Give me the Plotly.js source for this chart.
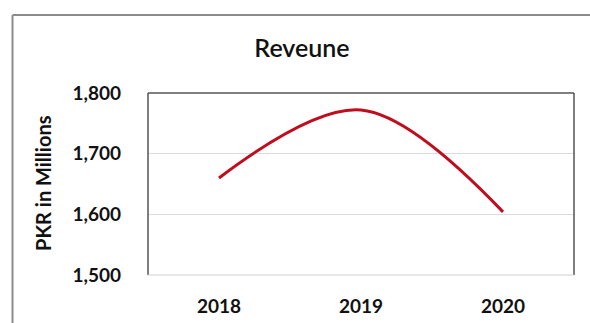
<!DOCTYPE html>
<html>
<head>
<meta charset="utf-8">
<script src="https://cdn.plot.ly/plotly-3.0.1.min.js"></script>
<style>
  html, body { margin: 0; padding: 0; background: #fff; }
  #chart { width: 590px; height: 323px; }
</style>
</head>
<body>
<div id="chart"></div>
<script>
const years = ['2018', '2019', '2020'];
const revenue = [1660, 1772, 1604];
const yTicks = [1500, 1600, 1700, 1800];
const chartTitle = 'Reveune';
const yTitle = 'PKR in Millions';

const FONT = 'Lato, "Liberation Sans", sans-serif';

const trace = {
  x: years,
  y: revenue,
  type: 'scatter',
  mode: 'lines',
  line: { color: '#c00d1e', width: 3, shape: 'spline', smoothing: 1 },
  hoverinfo: 'skip'
};

const layout = {
  width: 590,
  height: 323,
  margin: { l: 148, r: 16, t: 93, b: 48, pad: 0 },
  paper_bgcolor: '#ffffff',
  plot_bgcolor: '#ffffff',
  showlegend: false,
  title: {
    text: chartTitle,
    font: { family: FONT, size: 25, color: '#111111', weight: 600 },
    xref: 'container', yref: 'container',
    x: 302 / 590, y: 1 - 48 / 323,
    xanchor: 'center', yanchor: 'middle'
  },
  xaxis: {
    type: 'category',
    range: [-0.5, 2.5],
    showgrid: false,
    zeroline: false,
    showline: false,
    ticks: '',
    ticklabelstandoff: 18,
    tickfont: { family: FONT, size: 19, color: '#111111', weight: 'bold' },
    fixedrange: true
  },
  yaxis: {
    range: [1500, 1800],
    tickvals: yTicks,
    tickformat: ',',
    showgrid: true,
    gridcolor: '#dcdcdc',
    gridwidth: 1,
    zeroline: false,
    showline: false,
    ticks: '',
    ticklabelstandoff: 26,
    tickfont: { family: FONT, size: 19, color: '#111111', weight: 'bold' },
    fixedrange: true
  },
  annotations: [{
    text: yTitle,
    xref: 'paper', yref: 'paper',
    x: (43 - 148) / 426, y: (275 - 183) / 182,
    xanchor: 'center', yanchor: 'middle',
    textangle: -90,
    showarrow: false,
    font: { family: FONT, size: 20, color: '#111111', weight: 'bold' }
  }],
  shapes: [
    // outer chart border (top and left)
    { type: 'line', xref: 'paper', yref: 'paper', x0: (12.5 - 148) / 426, x1: (600 - 148) / 426, y0: 1 + (93 - 15) / 182, y1: 1 + (93 - 15) / 182, line: { color: '#8c8c8c', width: 2 } },
    { type: 'line', xref: 'paper', yref: 'paper', x0: (12.5 - 148) / 426, x1: (12.5 - 148) / 426, y0: 1 + (93 - 15) / 182, y1: (275 - 330) / 182, line: { color: '#8c8c8c', width: 2 } },
    // plot area frame
    { type: 'line', xref: 'paper', yref: 'paper', x0: 0, x1: 1, y0: 1, y1: 1, line: { color: '#555555', width: 1.5 } },
    { type: 'line', xref: 'paper', yref: 'paper', x0: 0, x1: 0, y0: 0, y1: 1, line: { color: '#555555', width: 1.5 } },
    { type: 'line', xref: 'paper', yref: 'paper', x0: 1, x1: 1, y0: 0, y1: 1, line: { color: '#555555', width: 1.5 } },
    { type: 'line', xref: 'paper', yref: 'paper', x0: 0, x1: 1, y0: 0, y1: 0, line: { color: '#d0d0d0', width: 1 } }
  ]
};

Plotly.newPlot('chart', [trace], layout, { staticPlot: true, displayModeBar: false });
</script>
</body>
</html>
